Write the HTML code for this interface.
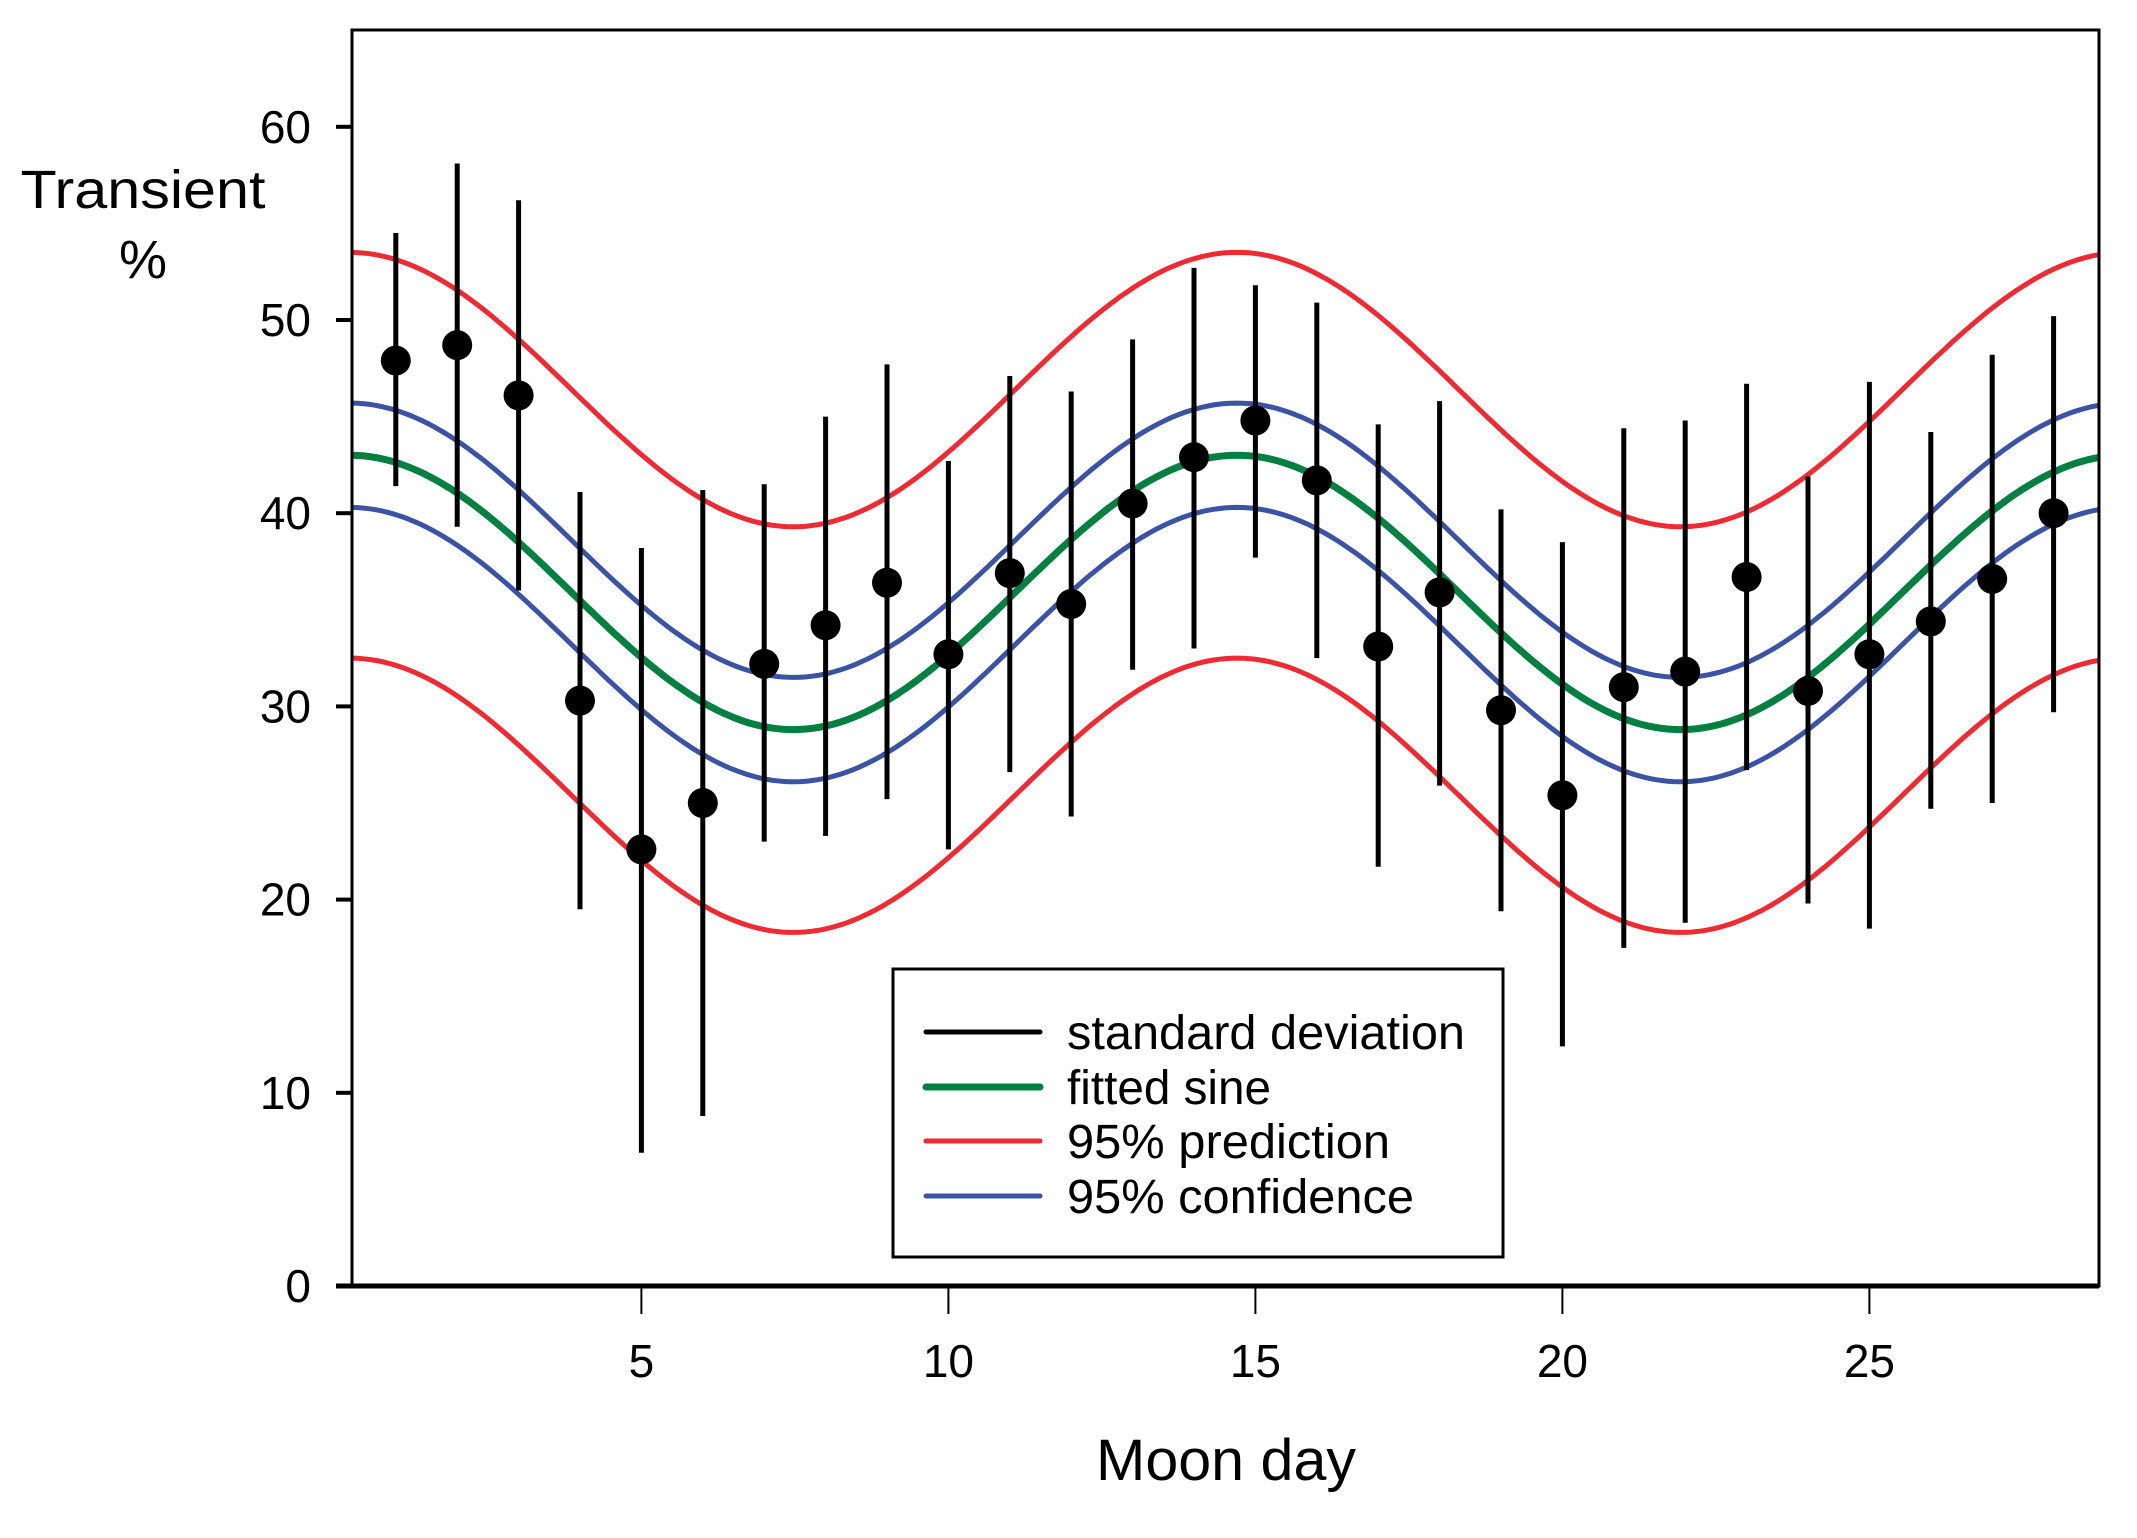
<!DOCTYPE html>
<html><head><meta charset="utf-8"><style>
html,body{margin:0;padding:0;background:#fff;}
svg{display:block;font-family:"Liberation Sans",Arial,sans-serif;}
</style></head><body>
<svg id="chart" width="2137" height="1538" viewBox="0 0 2137 1538" xmlns="http://www.w3.org/2000/svg">
<rect x="0" y="0" width="2137" height="1538" fill="#fff"/>
<g id="curves"></g>
<g id="points"></g>
<rect x="352" y="30" width="1747" height="1256" fill="none" stroke="#000" stroke-width="3"/>
<line x1="336" y1="1286" x2="2099" y2="1286" stroke="#000" stroke-width="5"/>
<g id="yticks"></g>
<g id="xticks"></g>
<text x="143" y="208" font-size="54" text-anchor="middle" textLength="245" lengthAdjust="spacingAndGlyphs">Transient</text>
<text x="143" y="278" font-size="54" text-anchor="middle">%</text>
<text x="1226" y="1480" font-size="58" text-anchor="middle" textLength="260" lengthAdjust="spacingAndGlyphs">Moon day</text>
<g>
<rect x="893" y="969" width="610" height="288" fill="#fff" stroke="#000" stroke-width="3"/>
<line x1="926" y1="1032" x2="1040" y2="1032" stroke="#000" stroke-width="5" stroke-linecap="round"/>
<text x="1067" y="1049" font-size="48" textLength="398" lengthAdjust="spacingAndGlyphs">standard deviation</text>
<line x1="926" y1="1087" x2="1040" y2="1087" stroke="#008040" stroke-width="7" stroke-linecap="round"/>
<text x="1067" y="1104" font-size="48" textLength="204" lengthAdjust="spacingAndGlyphs">fitted sine</text>
<line x1="926" y1="1141" x2="1040" y2="1141" stroke="#ee2a33" stroke-width="5" stroke-linecap="round"/>
<text x="1067" y="1158" font-size="48" textLength="323" lengthAdjust="spacingAndGlyphs">95% prediction</text>
<line x1="926" y1="1196" x2="1040" y2="1196" stroke="#3a53a4" stroke-width="5" stroke-linecap="round"/>
<text x="1067" y="1213" font-size="48" textLength="347" lengthAdjust="spacingAndGlyphs">95% confidence</text>
</g>
</svg>
<script>
const days = [1,2,3,4,5,6,7,8,9,10,11,12,13,14,15,16,17,18,19,20,21,22,23,24,25,26,27,28];
const means = [47.9,48.7,46.1,30.3,22.6,25.0,32.2,34.2,36.4,32.7,36.9,35.3,40.5,42.9,44.8,41.7,33.1,35.9,29.8,25.4,31.0,31.8,36.7,30.8,32.7,34.4,36.6,40.0];
const lows = [41.4,39.3,36.0,19.5,6.9,8.8,23.0,23.3,25.2,22.6,26.6,24.3,31.9,33.0,37.7,32.5,21.7,25.9,19.4,12.4,17.5,18.8,26.7,19.8,18.5,24.7,25.0,29.7];
const highs = [54.5,58.1,56.2,41.1,38.2,41.2,41.5,45.0,47.7,42.7,47.1,46.3,49.0,52.7,51.8,50.9,44.6,45.8,40.2,38.5,44.4,44.8,46.7,41.9,46.8,44.2,48.2,50.2];
const fitMean = 35.9, fitAmp = 7.1, fitPeriod = 14.45, fitPeak = 14.7;
const confHalf = 2.7, predHalf = 10.5;
const yTicks = [0,10,20,30,40,50,60];
const xTicks = [5,10,15,20,25];
const xMin = 0.29, xMax = 28.73;

const NS = 'http://www.w3.org/2000/svg';
const X = d => 334.4 + d * 61.4;
const Y = v => 1286 - v * 19.32;
function mk(tag, attrs, parent){const e=document.createElementNS(NS,tag);for(const k in attrs)e.setAttribute(k,attrs[k]);parent.appendChild(e);return e;}
const fit = d => fitMean + fitAmp * Math.cos(2*Math.PI*(d - fitPeak)/fitPeriod);

const curves = document.getElementById('curves');
const curveDefs = [
  ['prediction-upper', predHalf, '#ee2a33', 5],
  ['prediction-lower', -predHalf, '#ee2a33', 5],
  ['confidence-upper', confHalf, '#3a53a4', 5],
  ['confidence-lower', -confHalf, '#3a53a4', 5],
  ['fitted-sine', 0, '#008040', 7]
];
curveDefs.forEach(c => {
  let dstr = '';
  for (let i = 0; i <= 300; i++) {
    const d = xMin + (xMax - xMin) * i / 300;
    dstr += (i ? 'L' : 'M') + X(d).toFixed(1) + ' ' + Y(fit(d) + c[1]).toFixed(1);
  }
  const p = mk('path', {d: dstr, fill: 'none', stroke: c[2], 'stroke-width': c[3]}, curves);
  
  
});

const pts = document.getElementById('points');
days.forEach((d, i) => {
  const l = mk('line', {x1: X(d), x2: X(d), y1: Y(lows[i]), y2: Y(highs[i]), stroke: '#000', 'stroke-width': 5}, pts);
  
  
  const c = mk('circle', {cx: X(d), cy: Y(means[i]), r: 15, fill: '#000'}, pts);
  
  
});

const yt = document.getElementById('yticks');
yTicks.forEach(v => {
  const l = mk('line', {x1: 336, x2: 352, y1: Y(v), y2: Y(v), stroke: '#000', 'stroke-width': 4}, yt);
  
  
  const t = mk('text', {x: 311, y: Y(v) + 16, 'font-size': 46, 'text-anchor': 'end'}, yt);
  t.textContent = v;
  
  
});
const xt = document.getElementById('xticks');
xTicks.forEach(v => {
  const l = mk('line', {x1: X(v), x2: X(v), y1: 1286, y2: 1314, stroke: '#000', 'stroke-width': 2}, xt);
  
  
  const t = mk('text', {x: X(v), y: 1377, 'font-size': 46, 'text-anchor': 'middle'}, xt);
  t.textContent = v;
  
  
});
</script>
</body></html>
